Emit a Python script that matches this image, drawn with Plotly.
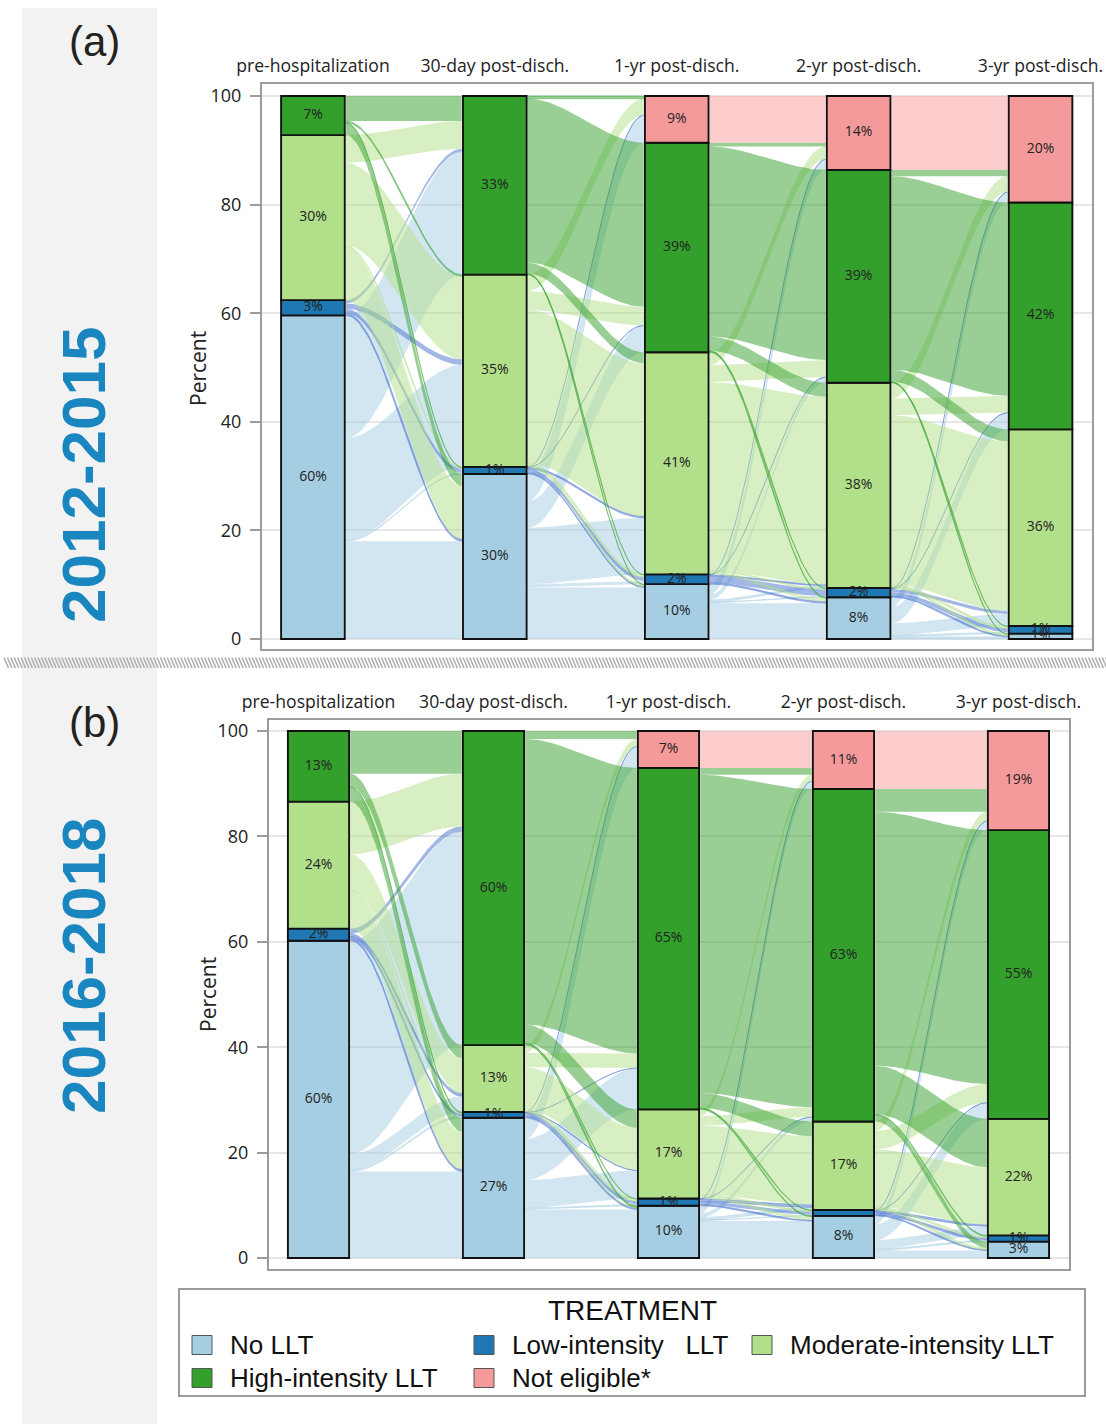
import numpy as np
import plotly.graph_objects as go

W, H = 1106, 1424

# ---------------------------------------------------------------- data
timepoints = ["pre-hospitalization", "30-day post-disch.", "1-yr post-disch.",
              "2-yr post-disch.", "3-yr post-disch."]
treatments = ["No LLT", "Low-intensity LLT", "Moderate-intensity LLT",
              "High-intensity LLT", "Not eligible*"]

# (a) 2012-2015: percent of patients in each treatment group at each time point
a_no_llt = [59.6, 30.4, 10.1, 7.7, 1.0]
a_low = [2.8, 1.3, 1.8, 1.7, 1.4]
a_moderate = [30.4, 35.4, 40.9, 37.8, 36.2]
a_high = [7.2, 32.9, 38.6, 39.2, 41.8]
a_not_eligible = [0.0, 0.0, 8.6, 13.6, 19.6]

# (b) 2016-2018
b_no_llt = [60.2, 26.6, 9.9, 8.0, 3.1]
b_low = [2.3, 1.1, 1.4, 1.1, 1.2]
b_moderate = [24.1, 12.7, 16.9, 16.8, 22.1]
b_high = [13.4, 59.6, 64.8, 63.1, 54.8]
b_not_eligible = [0.0, 0.0, 7.0, 11.0, 18.8]

# transitions between consecutive time points (rows: from, cols: to;
# order No, Low, Moderate, High, Not eligible), in percent of patients
a_pre_to_30d = [[18.0, 0.2, 18.8, 22.6, 0.0],
                [0.4, 0.8, 1.0, 0.6, 0.0],
                [9.8, 0.2, 15.3, 5.1, 0.0],
                [2.2, 0.1, 0.3, 4.6, 0.0],
                [0.0, 0.0, 0.0, 0.0, 0.0]]
a_30d_to_1yr = [[9.5, 0.6, 10.4, 4.9, 5.0],
                [0.2, 0.7, 0.3, 0.05, 0.05],
                [0.3, 0.4, 28.2, 3.45, 3.05],
                [0.1, 0.1, 2.0, 30.2, 0.5],
                [0.0, 0.0, 0.0, 0.0, 0.0]]
a_1yr_to_2yr = [[6.6, 0.2, 0.4, 1.0, 1.9],
                [0.3, 1.2, 0.2, 0.05, 0.05],
                [0.6, 0.2, 34.6, 3.15, 2.35],
                [0.2, 0.1, 2.6, 35.0, 0.7],
                [0.0, 0.0, 0.0, 0.0, 8.6]]
a_2yr_to_3yr = [[0.4, 0.3, 2.2, 3.0, 1.8],
                [0.2, 0.7, 0.6, 0.1, 0.1],
                [0.3, 0.3, 31.2, 3.1, 2.9],
                [0.1, 0.1, 2.2, 35.6, 1.2],
                [0.0, 0.0, 0.0, 0.0, 13.6]]

b_pre_to_30d = [[16.4, 0.3, 3.0, 40.5, 0.0],
                [0.4, 0.4, 0.5, 1.0, 0.0],
                [7.2, 0.2, 6.7, 10.0, 0.0],
                [2.6, 0.2, 2.5, 8.1, 0.0],
                [0.0, 0.0, 0.0, 0.0, 0.0]]
b_30d_to_1yr = [[9.2, 0.3, 5.3, 7.8, 4.0],
                [0.3, 0.6, 0.1, 0.05, 0.05],
                [0.1, 0.4, 8.0, 2.75, 1.45],
                [0.3, 0.1, 3.5, 54.2, 1.5],
                [0.0, 0.0, 0.0, 0.0, 0.0]]
b_1yr_to_2yr = [[7.0, 0.2, 0.5, 0.8, 1.4],
                [0.2, 0.6, 0.5, 0.05, 0.05],
                [0.6, 0.2, 13.0, 1.85, 1.25],
                [0.2, 0.1, 2.8, 60.4, 1.3],
                [0.0, 0.0, 0.0, 0.0, 7.0]]
b_2yr_to_3yr = [[1.4, 0.3, 1.7, 3.0, 1.6],
                [0.2, 0.4, 0.3, 0.1, 0.1],
                [0.3, 0.3, 10.9, 3.5, 1.8],
                [1.2, 0.2, 9.2, 48.2, 4.3],
                [0.0, 0.0, 0.0, 0.0, 11.0]]

# ---------------------------------------------------------------- style
bar_colors = ["#a6cee3", "#1f78b4", "#b2df8a", "#33a02c", "#f59a9a"]
ribbon_rgb = [(166, 206, 227), (70, 112, 205), (178, 223, 138), (51, 160, 44), (251, 154, 153)]
axis_line = "#9c9c9c"
txt = "#222222"
bar_width = 0.35
edge_gap = 0.007

panels = [
    dict(key="a", shares=[a_no_llt, a_low, a_moderate, a_high, a_not_eligible],
         flows=[a_pre_to_30d, a_30d_to_1yr, a_1yr_to_2yr, a_2yr_to_3yr],
         xa="x", ya="y", box=(262, 1092, 84, 649), yrange=[-1.84, 102.21],
         xrange=[-0.280, 4.283], ytitle=(198, 368)),
    dict(key="b", shares=[b_no_llt, b_low, b_moderate, b_high, b_not_eligible],
         flows=[b_pre_to_30d, b_30d_to_1yr, b_1yr_to_2yr, b_2yr_to_3yr],
         xa="x2", ya="y2", box=(269, 1069, 720, 1269), yrange=[-2.09, 102.09],
         xrange=[-0.283, 4.289], ytitle=(208, 995)),
]
# segments whose percentage label is left off (too crowded)
unlabeled = {("b", 3, 1)}


def ribbon(x0, x1, lo0, hi0, lo1, hi1, n=50):
    t = np.linspace(0.0, 1.0, n)
    s = t * t * (3 - 2 * t)
    xs = x0 + (x1 - x0) * t
    top = hi0 + (hi1 - hi0) * s
    bot = lo0 + (lo1 - lo0) * s
    return np.concatenate([xs, xs[::-1]]), np.concatenate([top, bot[::-1]])


fig = go.Figure()

for p in panels:
    shares = np.array(p["shares"], dtype=float)           # (category, time)
    bottoms = np.vstack([np.zeros(shares.shape[1]), np.cumsum(shares, axis=0)[:-1]])

    # flows between consecutive time points
    for t, flow in enumerate(p["flows"]):
        flow = np.array(flow, dtype=float)
        x0 = t + bar_width / 2 + edge_gap
        x1 = t + 1 - bar_width / 2 - edge_gap
        out_level = bottoms[:, t].copy()
        in_level = bottoms[:, t + 1].copy()
        for i in range(5):
            for j in range(5):
                v = flow[i, j]
                if v <= 0:
                    continue
                lo0, lo1 = out_level[i], in_level[j]
                out_level[i] += v
                in_level[j] += v
                xs, ys = ribbon(x0, x1, lo0, lo0 + v, lo1, lo1 + v)
                r, g, b = ribbon_rgb[i]
                thin = v < 0.6
                fig.add_trace(go.Scatter(
                    x=xs, y=ys, mode="lines", fill="toself",
                    fillcolor=f"rgba({r},{g},{b},0.5)",
                    line=dict(width=0.9 if thin else 0,
                              color=f"rgba({r},{g},{b},0.45)"),
                    xaxis=p["xa"], yaxis=p["ya"], showlegend=False, hoverinfo="skip"))

    # stacked bars
    for c in range(5):
        vals = [v if v > 0 else None for v in shares[c]]
        fig.add_trace(go.Bar(
            x=list(range(5)), y=vals, base=list(bottoms[c]), width=bar_width,
            marker=dict(color=bar_colors[c], line=dict(color="#111111", width=1.9)),
            name=treatments[c], xaxis=p["xa"], yaxis=p["ya"],
            showlegend=False, hoverinfo="skip"))

    # percentage labels
    lx, ly, lt = [], [], []
    for c in range(5):
        for t in range(5):
            v = shares[c, t]
            if v <= 0 or (p["key"], t, c) in unlabeled:
                continue
            lx.append(t)
            ly.append(bottoms[c, t] + v / 2)
            lt.append(f"{round(v)}%")
    fig.add_trace(go.Scatter(
        x=lx, y=ly, text=lt, mode="text",
        textfont=dict(family="Open Sans", size=14, color=txt),
        xaxis=p["xa"], yaxis=p["ya"], showlegend=False, hoverinfo="skip"))

# hatched divider between the two periods
hx, hy = [], []
k = 0
while 4 + k * 3.4 < W:
    xh = 4 + k * 3.4
    hx += [xh, xh + 4.5, None]
    hy += [657.5, 668.0, None]
    k += 1
fig.add_trace(go.Scatter(x=hx, y=hy, mode="lines", line=dict(color="#adadad", width=1.5),
                         xaxis="x3", yaxis="y3", showlegend=False, hoverinfo="skip"))


def px(x):
    return x / W


def py(y):
    return 1 - y / H


layout = dict(
    width=W, height=H, margin=dict(l=0, r=0, t=0, b=0, autoexpand=False),
    paper_bgcolor="white", plot_bgcolor="rgba(0,0,0,0)",
    barmode="overlay", showlegend=False,
    font=dict(family="Open Sans", color=txt),
)

annotations = []
for p in panels:
    xl, xr, yt, yb = p["box"]
    xname = "xaxis" if p["xa"] == "x" else "xaxis2"
    yname = "yaxis" if p["ya"] == "y" else "yaxis2"
    layout[xname] = dict(
        domain=[px(xl), px(xr)], range=p["xrange"], anchor=p["ya"], side="top",
        automargin=False,
        tickmode="array", tickvals=list(range(5)), ticktext=timepoints,
        showgrid=False, zeroline=False, showline=True, linecolor=axis_line,
        linewidth=2, mirror=True, ticks="outside", ticklen=3,
        tickcolor="rgba(0,0,0,0)", fixedrange=True,
        tickfont=dict(family="Open Sans", size=17.6, color=txt))
    layout[yname] = dict(
        domain=[py(yb), py(yt)], range=p["yrange"], anchor=p["xa"],
        automargin=False,
        tickmode="array", tickvals=[0, 20, 40, 60, 80, 100],
        showgrid=True, gridcolor="#e6e6e6", gridwidth=1.5, zeroline=False,
        showline=True, linecolor=axis_line, linewidth=2, mirror=True,
        ticks="outside", ticklen=10, tickwidth=2, tickcolor=axis_line,
        ticklabelstandoff=5,
        fixedrange=True, tickfont=dict(family="Open Sans", size=18, color=txt))
    tx, ty = p["ytitle"]
    annotations.append(dict(text="Percent", x=px(tx), y=py(ty), xref="paper", yref="paper",
                            showarrow=False, textangle=-90, xanchor="center",
                            yanchor="middle",
                            font=dict(family="Open Sans", size=21, color=txt)))

layout["xaxis3"] = dict(domain=[0, 1], range=[0, W], anchor="y3", visible=False,
                        fixedrange=True, automargin=False)
layout["yaxis3"] = dict(domain=[0, 1], range=[H, 0], anchor="x3", visible=False,
                        fixedrange=True, automargin=False)

shapes = [dict(type="rect", xref="paper", yref="paper", x0=px(22), x1=px(157),
               y0=0, y1=py(8), fillcolor="#f2f2f2", line=dict(width=0), layer="below")]

for label, yy in [("(a)", 42), ("(b)", 722)]:
    annotations.append(dict(text=label, x=px(94), y=py(yy), xref="paper", yref="paper",
                            showarrow=False, xanchor="center", yanchor="middle",
                            font=dict(family="Liberation Sans", size=42, color=txt)))
for label, yy in [("2012-2015", 475), ("2016-2018", 966)]:
    annotations.append(dict(text=f"<b>{label}</b>", x=px(83), y=py(yy), xref="paper",
                            yref="paper", showarrow=False, textangle=-90,
                            xanchor="center", yanchor="middle",
                            font=dict(family="Liberation Sans", size=62, color="#1a86c0")))

# legend
shapes.append(dict(type="rect", xref="paper", yref="paper", x0=px(179), x1=px(1085),
                   y0=py(1396), y1=py(1289), line=dict(color="#9a9a9a", width=2),
                   fillcolor="white"))
annotations.append(dict(text="TREATMENT", x=px(632), y=py(1310), xref="paper", yref="paper",
                        showarrow=False, xanchor="center", yanchor="middle",
                        font=dict(family="Liberation Sans", size=28, color="#111111")))
legend_names = ["No LLT", "Low-intensity\u00a0\u00a0\u00a0LLT", "Moderate-intensity LLT",
                "High-intensity LLT", "Not eligible*"]
legend_slots = [(192, 1345), (474, 1345), (752, 1345), (192, 1378), (474, 1378)]
for c, (sx, sy) in enumerate(legend_slots):
    shapes.append(dict(type="rect", xref="paper", yref="paper", x0=px(sx), x1=px(sx + 20),
                       y0=py(sy + 9.5), y1=py(sy - 9.5), fillcolor=bar_colors[c],
                       line=dict(color="#555555", width=1)))
    annotations.append(dict(text=legend_names[c], x=px(sx + 36), y=py(sy), xref="paper",
                            yref="paper", showarrow=False, xanchor="left", yanchor="middle",
                            font=dict(family="Liberation Sans", size=26, color="#111111")))

layout["shapes"] = shapes
layout["annotations"] = annotations
fig.update_layout(**layout)

fig.write_html("out.html")
